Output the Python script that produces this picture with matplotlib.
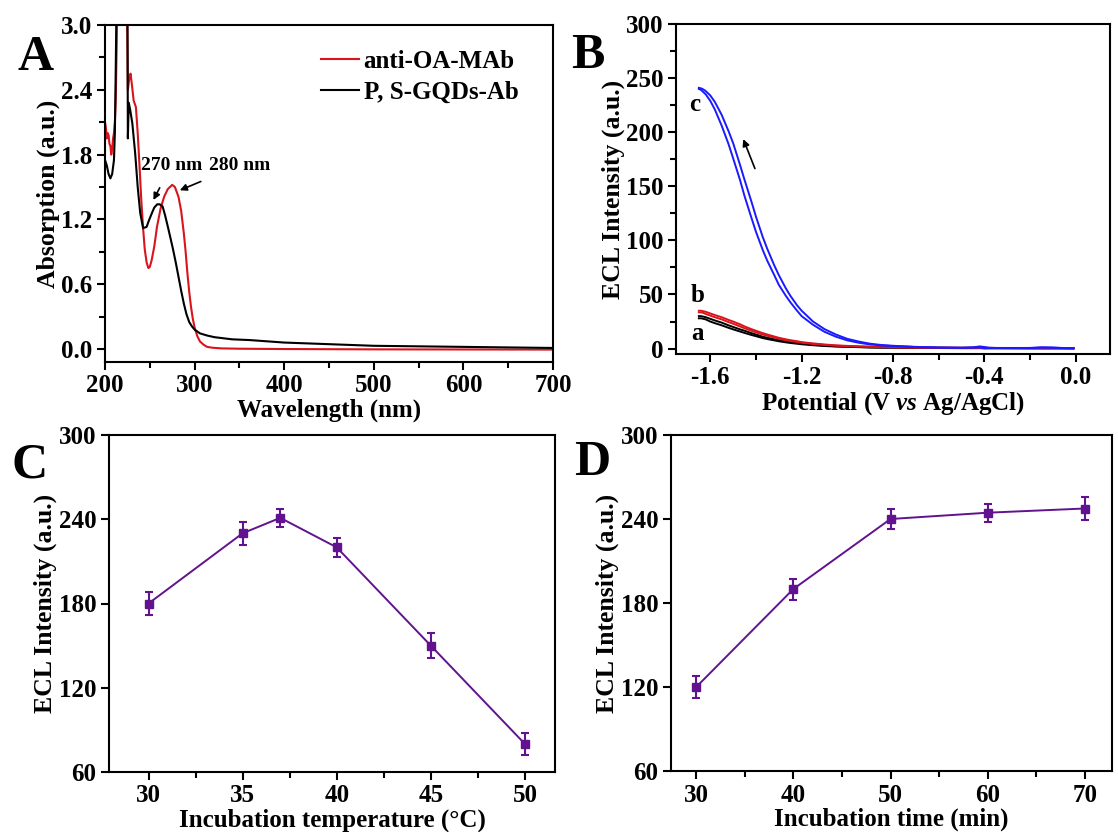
import matplotlib
matplotlib.use("Agg")
import matplotlib.pyplot as plt
from matplotlib.ticker import MultipleLocator, FormatStrFormatter

plt.rcParams['font.family'] = ['Liberation Serif', 'DejaVu Serif']
plt.rcParams['font.weight'] = 'bold'
plt.rcParams['axes.labelweight'] = 'bold'
plt.rcParams['mathtext.fontset'] = 'custom'
plt.rcParams['mathtext.rm'] = 'Liberation Serif:bold'
plt.rcParams['mathtext.it'] = 'Liberation Serif:italic:bold'
plt.rcParams['axes.linewidth'] = 1.5

# ---- panel A: UV-vis absorption ----
wl_red = [200, 201, 202, 203, 204, 205, 206, 207, 208, 209, 210, 211, 212, 213, 214,
          220, 224, 225.5, 227, 228.5, 230, 232, 234.5, 236.5, 238.5, 240.5, 242.5, 244.4,
          246.5, 248.4, 250, 252, 255, 258, 262, 266, 270, 275, 278, 282, 285, 288, 290,
          292, 294, 296, 298, 300, 303, 306, 310, 314, 320, 330, 350, 400, 500, 600, 700]
abs_red = [2.10, 2.05, 1.95, 2.00, 1.98, 1.90, 1.88, 1.80, 1.85, 1.95, 2.00, 2.10, 2.30, 2.80, 3.50,
           3.60, 3.60, 2.40, 2.50, 2.55, 2.45, 2.30, 2.24, 2.00, 1.70, 1.38, 1.12, 0.92,
           0.80, 0.75, 0.76, 0.82, 0.95, 1.13, 1.30, 1.41, 1.48, 1.52, 1.50, 1.41, 1.28, 1.07, 0.90,
           0.70, 0.53, 0.39, 0.28, 0.20, 0.12, 0.07, 0.04, 0.02, 0.012, 0.006, 0.003, 0.0, -0.003, -0.004, -0.005]

wl_blk = [200, 202, 204, 206, 208, 210, 211, 212, 213, 220, 225, 225.5, 226.5, 228, 230.5,
          233.7, 236.5, 239.3, 242.5, 246.4, 249, 252.4, 255, 258.3, 261, 264.3, 267, 270.2,
          273, 276, 279, 282, 285, 288, 291, 294, 297, 300, 306, 314, 322, 341.7, 361.5,
          400, 450, 500, 600, 700]
abs_blk = [1.75, 1.70, 1.62, 1.58, 1.62, 1.75, 2.00, 2.60, 3.30, 3.60, 3.50, 1.95, 2.28, 2.22, 2.09,
           1.81, 1.50, 1.26, 1.12, 1.13, 1.19, 1.26, 1.31, 1.34, 1.34, 1.32, 1.24, 1.13,
           1.03, 0.92, 0.80, 0.67, 0.54, 0.42, 0.32, 0.25, 0.21, 0.18, 0.145, 0.125, 0.11, 0.09, 0.083,
           0.06, 0.045, 0.03, 0.02, 0.01]

# ---- panel B: ECL-potential curves ----
pot = [-1.65, -1.64, -1.63, -1.62, -1.60, -1.58, -1.55, -1.52, -1.50, -1.47, -1.45, -1.42,
       -1.40, -1.37, -1.35, -1.32, -1.30, -1.27, -1.25, -1.22, -1.20, -1.15,
       -1.10, -1.05, -1.00, -0.95, -0.90, -0.85, -0.80, -0.75, -0.70, -0.60, -0.50, -0.45,
       -0.42, -0.40, -0.38, -0.35, -0.30, -0.20, -0.15, -0.10, -0.05, -0.01]
c_out = [241, 240.5, 239.5, 238, 234, 228, 216, 201, 190, 170, 156, 136,
         122, 103, 92, 77, 68, 56, 49, 40, 35, 25,
         18, 13, 9, 6.5, 4.5, 3.3, 2.6, 2.1, 1.6, 1.0, 0.8, 1.2,
         2.0, 1.5, 0.8, 0.6, 0.5, 0.6, 1.2, 1.0, 0.5, 0.3]
c_in = [240, 239, 237, 235, 229, 221, 206, 189, 176, 156, 141, 121,
        108, 91, 81, 68, 59, 49, 43, 35, 30, 22,
        15.5, 11, 7.6, 5.4, 3.8, 2.9, 2.3, 1.9, 1.4, 0.9, 0.7, 0.8,
        1.0, 0.3, 0.5, 0.5, 0.4, 0.5, 0.9, 0.8, 0.4, 0.2]
b_out = [35, 35, 34.5, 34, 32.5, 31, 29, 26.5, 25, 22.5, 20.5, 18,
         16.5, 14.3, 13, 11.2, 10, 8.6, 7.8, 6.8, 6, 4.8,
         3.8, 3.0, 2.5, 2.1, 1.8, 1.5, 1.3, 1.2, 1.0, 0.9, 0.8, 0.8,
         0.7, 0.7, 0.7, 0.6, 0.6, 0.6, 0.5, 0.5, 0.5, 0.5]
b_in = [33.5, 33.5, 33, 32, 30.5, 29, 27, 24.5, 23, 20.5, 18.8, 16.5,
        15, 13, 11.8, 10.2, 9, 7.8, 7, 6.1, 5.4, 4.3,
        3.4, 2.7, 2.2, 1.9, 1.6, 1.3, 1.1, 1.0, 0.9, 0.8, 0.7, 0.7,
        0.6, 0.6, 0.6, 0.5, 0.5, 0.5, 0.4, 0.4, 0.4, 0.4]
a_out = [30, 30, 29.5, 29, 27.5, 26, 24, 21.5, 20, 17.8, 16.5, 14.3,
         13, 11, 10, 8.6, 7.8, 6.6, 6, 5.2, 4.6, 3.6,
         2.8, 2.2, 1.8, 1.5, 1.2, 1.0, 0.9, 0.8, 0.7, 0.6, 0.5, 0.5,
         0.5, 0.4, 0.4, 0.4, 0.4, 0.3, 0.3, 0.3, 0.3, 0.3]
a_in = [28, 28, 27.5, 27, 25, 23.5, 21.5, 19.2, 17.8, 15.8, 14.5, 12.6,
        11.5, 9.7, 8.8, 7.6, 6.8, 5.8, 5.2, 4.5, 4.0, 3.1,
        2.4, 1.9, 1.6, 1.3, 1.0, 0.9, 0.8, 0.7, 0.6, 0.5, 0.4, 0.4,
        0.4, 0.3, 0.3, 0.3, 0.3, 0.2, 0.2, 0.2, 0.2, 0.2]

# ---- panel C: temperature ----
temp = [30, 35, 37, 40, 45, 50]
temp_ecl = [180, 230, 241, 220, 150, 80]
temp_err = [8, 8, 6.5, 7, 9, 8]

# ---- panel D: incubation time ----
time_min = [30, 40, 50, 60, 70]
time_ecl = [120, 190, 240, 244.5, 247.5]
time_err = [8, 7.5, 7, 6.5, 8]

purple = '#62128e'
W, H = 1118, 832
fig = plt.figure(figsize=(W / 100, H / 100), dpi=100)


def box(l, t, r, b):
    return [l / W, 1 - b / H, (r - l) / W, (b - t) / H]


def style(ax):
    ax.tick_params(which='both', direction='out', labelsize=18, width=1.5,
                   top=False, right=False)
    ax.tick_params(which='major', length=6, pad=3)
    ax.tick_params(which='minor', length=4)
    for lab in ax.get_xticklabels() + ax.get_yticklabels():
        lab.set_fontweight('bold')


XL = dict(fontsize=18, labelpad=0.5)
YL = dict(fontsize=18.5, labelpad=1)

# A
axA = fig.add_axes(box(105, 25, 553, 362))
axA.plot(wl_red, abs_red, color='#d8141c', lw=1.5, label='anti-OA-MAb')
axA.plot(wl_blk, abs_blk, color='black', lw=1.5, label='P, S-GQDs-Ab')
axA.set_xlim(200, 700)
axA.set_ylim(-0.12, 3.0)
axA.xaxis.set_major_locator(MultipleLocator(100))
axA.xaxis.set_minor_locator(MultipleLocator(50))
axA.yaxis.set_major_locator(MultipleLocator(0.6))
axA.yaxis.set_minor_locator(MultipleLocator(0.3))
axA.yaxis.set_major_formatter(FormatStrFormatter('%.1f'))
axA.set_xlabel('Wavelength (nm)', **XL)
axA.set_ylabel('Absorption (a.u.)', **YL)
axA.legend(loc='upper right', bbox_to_anchor=(0.945, 0.955), frameon=False, fontsize=18,
           handlelength=1.5, handletextpad=0.2, borderaxespad=0, labelspacing=0.3)
axA.annotate('270 nm', xy=(254, 1.38), xytext=(274, 1.70), ha='center', va='center',
             fontsize=14, arrowprops=dict(arrowstyle='-|>', color='black', lw=1.2,
                                          mutation_scale=10, shrinkA=9, shrinkB=0))
axA.annotate('280 nm', xy=(283.5, 1.47), xytext=(350, 1.70), ha='center', va='center',
             fontsize=14, arrowprops=dict(arrowstyle='-|>', color='black', lw=1.2,
                                          mutation_scale=10, shrinkA=9, shrinkB=0))
style(axA)

# B
axB = fig.add_axes(box(676, 24, 1110, 354))
for y1, y2, col in [(a_out, a_in, 'black'), (b_out, b_in, '#d8141c'), (c_out, c_in, '#1a1aff')]:
    axB.plot(pot, y1, color=col, lw=1.4)
    axB.plot(pot, y2, color=col, lw=1.4)
axB.set_xlim(-1.75, 0.15)
axB.set_ylim(-5, 300)
axB.xaxis.set_major_locator(MultipleLocator(0.4))
axB.xaxis.set_minor_locator(MultipleLocator(0.2))
axB.yaxis.set_major_locator(MultipleLocator(50))
axB.yaxis.set_minor_locator(MultipleLocator(25))
axB.xaxis.set_major_formatter(FormatStrFormatter('%.1f'))
axB.set_xlabel(r'Potential (V $\mathit{vs}$ Ag/AgCl)', **XL)
axB.set_ylabel('ECL Intensity (a.u.)', **YL)
axB.text(-1.668, 226, 'c', fontsize=18, ha='center', va='center')
axB.text(-1.655, 49, 'b', fontsize=18, ha='center', va='center')
axB.text(-1.655, 14, 'a', fontsize=18, ha='center', va='center')
axB.annotate('', xy=(-1.46, 196), xytext=(-1.40, 164),
             arrowprops=dict(arrowstyle='-|>', color='black', lw=1.2, mutation_scale=10))
style(axB)

# C
axC = fig.add_axes(box(109, 435, 555, 772))
axC.errorbar(temp, temp_ecl, yerr=temp_err, color=purple, marker='s', ms=6, lw=1.4,
             elinewidth=1.5, capsize=3, capthick=1.5)
axC.set_xlim(27.9, 51.6)
axC.set_ylim(60, 300)
axC.xaxis.set_major_locator(MultipleLocator(5))
axC.xaxis.set_minor_locator(MultipleLocator(2.5))
axC.yaxis.set_major_locator(MultipleLocator(60))
axC.set_xlabel('Incubation temperature (\u00b0C)', **XL)
axC.set_ylabel('ECL Intensity (a.u.)', **YL)
style(axC)

# D
axD = fig.add_axes(box(671, 435, 1112, 771))
axD.errorbar(time_min, time_ecl, yerr=time_err, color=purple, marker='s', ms=6, lw=1.4,
             elinewidth=1.5, capsize=3, capthick=1.5)
axD.set_xlim(27.4, 72.8)
axD.set_ylim(60, 300)
axD.xaxis.set_major_locator(MultipleLocator(10))
axD.xaxis.set_minor_locator(MultipleLocator(5))
axD.yaxis.set_major_locator(MultipleLocator(60))
axD.set_xlabel('Incubation time (min)', **XL)
axD.set_ylabel('ECL Intensity (a.u.)', **YL)
style(axD)

# panel letters
for letter, x, y in [('A', 36, 58), ('B', 588, 56), ('C', 30, 466), ('D', 592, 463)]:
    fig.text(x / W, 1 - y / H, letter, fontsize=36, fontweight='bold',
             ha='center', va='center')

fig.savefig('out.png', dpi=100)
